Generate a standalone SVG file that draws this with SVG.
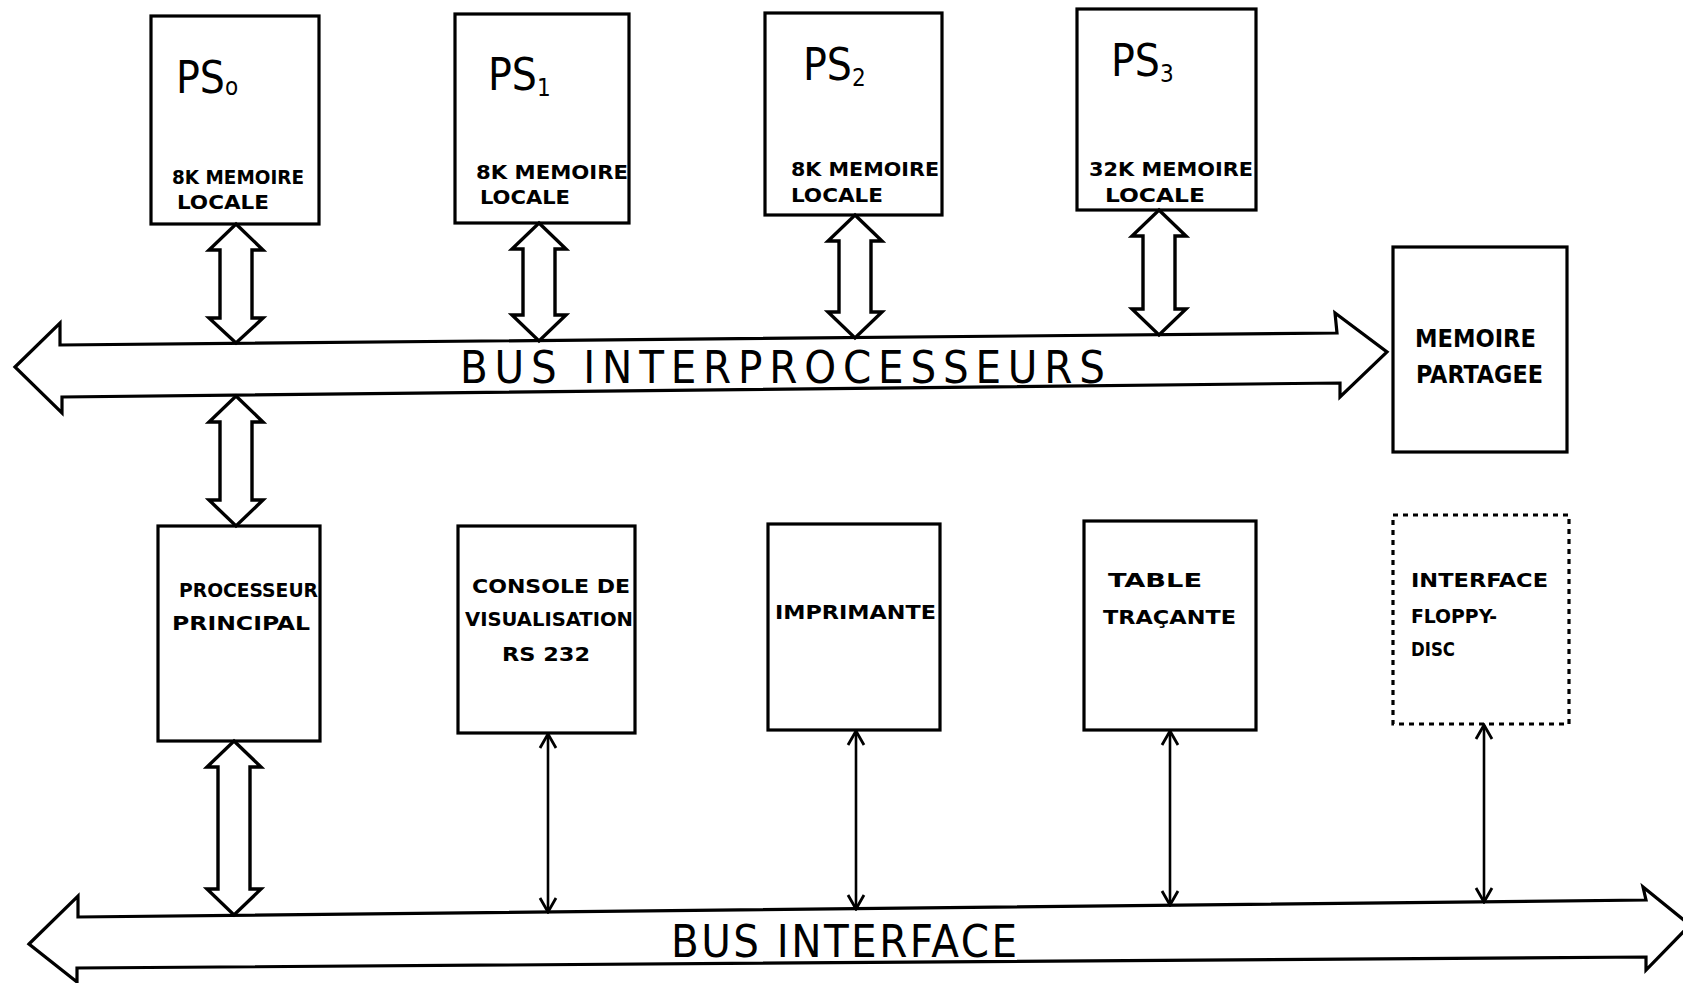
<svg xmlns="http://www.w3.org/2000/svg" width="1683" height="983" viewBox="0 0 1683 983">
<style>
.box{fill:none;stroke:#000;stroke-width:3.2}
.dash{fill:none;stroke:#000;stroke-width:3.2;stroke-dasharray:5 5}
.bus{fill:#fff;stroke:#000;stroke-width:3.2;stroke-linejoin:miter}
.dbl{fill:#fff;stroke:#000;stroke-width:3.4;stroke-linejoin:miter}
.thin{stroke:#000;stroke-width:2.6;fill:none}
text{font-family:'Liberation Sans Narrow','DejaVu Sans Condensed','Liberation Sans',sans-serif;fill:#000}
.lbl{font-size:19px;font-weight:bold}
.mid{font-size:24px;font-weight:bold}
.ps{font-size:44px}
.sub{font-size:24px}
.bustxt{font-size:45px}
</style>
<defs>
<marker id="v" viewBox="0 0 20 20" refX="18" refY="10" markerWidth="20" markerHeight="20" markerUnits="userSpaceOnUse" orient="auto-start-reverse">
<path d="M4,2 L18,10 L4,18" fill="none" stroke="#000" stroke-width="2.8"/>
</marker>
</defs>

<g id="ps0">
<rect class="box" x="151" y="16" width="168" height="208"/>
<text class="ps" x="176" y="93">PS<tspan class="sub" dy="2">o</tspan></text>
<text class="lbl" x="172" y="184" textLength="132" lengthAdjust="spacingAndGlyphs">8K MEMOIRE</text>
<text class="lbl" x="177" y="209" textLength="92" lengthAdjust="spacingAndGlyphs">LOCALE</text>
</g>
<g id="ps1">
<rect class="box" x="455" y="14" width="174" height="209"/>
<text class="ps" x="488" y="90">PS<tspan class="sub" dy="6">1</tspan></text>
<text class="lbl" x="476" y="179" textLength="152" lengthAdjust="spacingAndGlyphs">8K MEMOIRE</text>
<text class="lbl" x="480" y="204" textLength="90" lengthAdjust="spacingAndGlyphs">LOCALE</text>
</g>
<g id="ps2">
<rect class="box" x="765" y="13" width="177" height="202"/>
<text class="ps" x="803" y="80">PS<tspan class="sub" dy="6">2</tspan></text>
<text class="lbl" x="791" y="176" textLength="148" lengthAdjust="spacingAndGlyphs">8K MEMOIRE</text>
<text class="lbl" x="791" y="202" textLength="92" lengthAdjust="spacingAndGlyphs">LOCALE</text>
</g>
<g id="ps3">
<rect class="box" x="1077" y="9" width="179" height="201"/>
<text class="ps" x="1111" y="76">PS<tspan class="sub" dy="6">3</tspan></text>
<text class="lbl" x="1089" y="176" textLength="164" lengthAdjust="spacingAndGlyphs">32K MEMOIRE</text>
<text class="lbl" x="1105" y="202" textLength="100" lengthAdjust="spacingAndGlyphs">LOCALE</text>
</g>
<g id="memoire-partagee">
<rect class="box" x="1393" y="247" width="174" height="205"/>
<text class="mid" x="1415" y="347" textLength="121" lengthAdjust="spacingAndGlyphs">MEMOIRE</text>
<text class="mid" x="1416" y="383" textLength="127" lengthAdjust="spacingAndGlyphs">PARTAGEE</text>
</g>

<g id="processeur-principal">
<rect class="box" x="158" y="526" width="162" height="215"/>
<text class="lbl" x="179" y="597" textLength="139" lengthAdjust="spacingAndGlyphs">PROCESSEUR</text>
<text class="lbl" x="172" y="630" textLength="138" lengthAdjust="spacingAndGlyphs">PRINCIPAL</text>
</g>
<g id="console">
<rect class="box" x="458" y="526" width="177" height="207"/>
<text class="lbl" x="472" y="593" textLength="158" lengthAdjust="spacingAndGlyphs">CONSOLE DE</text>
<text class="lbl" x="465" y="626" textLength="168" lengthAdjust="spacingAndGlyphs">VISUALISATION</text>
<text class="lbl" x="502" y="661" textLength="88" lengthAdjust="spacingAndGlyphs">RS 232</text>
</g>
<g id="imprimante">
<rect class="box" x="768" y="524" width="172" height="206"/>
<text class="lbl" x="775" y="619" textLength="161" lengthAdjust="spacingAndGlyphs">IMPRIMANTE</text>
</g>
<g id="table-tracante">
<rect class="box" x="1084" y="521" width="172" height="209"/>
<text class="lbl" x="1108" y="587" textLength="94" lengthAdjust="spacingAndGlyphs">TABLE</text>
<text class="lbl" x="1103" y="624" textLength="133" lengthAdjust="spacingAndGlyphs">TRAÇANTE</text>
</g>
<g id="interface-floppy">
<rect class="dash" x="1393" y="515" width="176" height="209"/>
<text class="lbl" x="1411" y="587" textLength="137" lengthAdjust="spacingAndGlyphs">INTERFACE</text>
<text class="lbl" x="1411" y="623" textLength="86" lengthAdjust="spacingAndGlyphs">FLOPPY-</text>
<text class="lbl" x="1411" y="656" textLength="44" lengthAdjust="spacingAndGlyphs">DISC</text>
</g>

<g id="connectors">
<g id="bus-interprocesseurs">
<path class="bus" d="M15,367 L60,323 L60,345 L1337,333 L1335,313 L1387,352 L1340,397 L1340,383 L62,397 L62,413 Z"/>
<text class="bustxt" x="460" y="383" textLength="645" lengthAdjust="spacing">BUS  INTERPROCESSEURS</text>
</g>
<g id="bus-interface">
<path class="bus" d="M29,944 L78,896 L78,917 L1646,900 L1643,887 L1690,925 L1646,970 L1646,957 L77,968 L77,982 Z"/>
<text class="bustxt" x="671" y="957" textLength="346" lengthAdjust="spacing">BUS  INTERFACE</text>
</g>
<path class="dbl" d="M236,224 L263,250 L252,250 L252,318 L263,318 L236,343 L209,318 L220,318 L220,250 L209,250 Z"/>
<path class="dbl" d="M236,396 L263,422 L252,422 L252,500 L263,500 L236,526 L209,500 L220,500 L220,422 L209,422 Z"/>
<path class="dbl" d="M539,223 L566,249 L555,249 L555,315 L566,315 L539,341 L512,315 L523,315 L523,249 L512,249 Z"/>
<path class="dbl" d="M855,215 L882,241 L871,241 L871,312 L882,312 L855,338 L828,312 L839,312 L839,241 L828,241 Z"/>
<path class="dbl" d="M1159,210 L1186,236 L1175,236 L1175,309 L1186,309 L1159,335 L1132,309 L1143,309 L1143,236 L1132,236 Z"/>
<path class="dbl" d="M234,741 L261,767 L250,767 L250,889 L261,889 L234,915 L207,889 L218,889 L218,767 L207,767 Z"/>
<line class="thin" x1="548" y1="734" x2="548" y2="912" marker-start="url(#v)" marker-end="url(#v)"/>
<line class="thin" x1="856" y1="731" x2="856" y2="909" marker-start="url(#v)" marker-end="url(#v)"/>
<line class="thin" x1="1170" y1="731" x2="1170" y2="905" marker-start="url(#v)" marker-end="url(#v)"/>
<line class="thin" x1="1484" y1="725" x2="1484" y2="902" marker-start="url(#v)" marker-end="url(#v)"/>
</g>
</svg>
